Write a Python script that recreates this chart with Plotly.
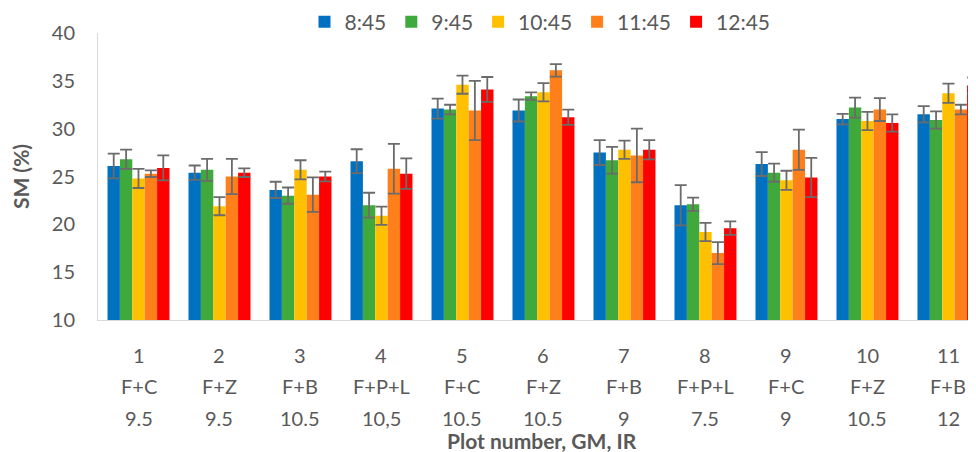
import plotly.graph_objects as go

series = ["8:45", "9:45", "10:45", "11:45", "12:45"]
colors = ["#0070C0", "#40A93B", "#FFC000", "#FF7F1A", "#FF0000"]

plot_num = ["1", "2", "3", "4", "5", "6", "7", "8", "9", "10", "11"]
gm = ["F+C", "F+Z", "F+B", "F+P+L", "F+C", "F+Z", "F+B", "F+P+L", "F+C", "F+Z", "F+B"]
ir = ["9.5", "9.5", "10.5", "10,5", "10.5", "10.5", "9", "7.5", "9", "10.5", "12"]

sm_0845 = [26.1, 25.4, 23.6, 26.6, 32.1, 31.9, 27.5, 22.0, 26.3, 31.0, 31.5]
err_0845 = [1.3, 0.75, 0.85, 1.25, 1.05, 1.15, 1.3, 2.1, 1.25, 0.55, 0.85]
sm_0945 = [26.8, 25.7, 23.0, 22.0, 32.0, 33.4, 26.7, 22.1, 25.4, 32.2, 30.9]
err_0945 = [1.0, 1.15, 0.85, 1.3, 0.5, 0.4, 1.4, 0.7, 0.95, 1.05, 0.9]
sm_1045 = [24.8, 21.9, 25.7, 20.9, 34.6, 33.8, 27.8, 19.2, 24.6, 30.8, 33.7]
err_1045 = [1.0, 0.95, 1.0, 0.95, 0.95, 0.95, 0.95, 0.95, 1.0, 0.95, 1.0]
sm_1145 = [25.3, 25.0, 23.1, 25.8, 31.9, 36.1, 27.2, 17.0, 27.8, 32.0, 32.0]
err_1145 = [0.35, 1.85, 1.8, 2.6, 3.1, 0.65, 2.8, 1.15, 2.1, 1.2, 0.5]
sm_1245 = [25.9, 25.4, 25.0, 25.3, 34.1, 31.2, 27.8, 19.6, 24.9, 30.6, 34.5]
err_1245 = [1.3, 0.45, 0.5, 1.6, 1.3, 0.8, 1.0, 0.7, 2.05, 0.9, 0.85]

values = [sm_0845, sm_0945, sm_1045, sm_1145, sm_1245]
errors = [err_0845, err_0945, err_1045, err_1145, err_1245]

FONT = "Lato, 'Liberation Sans', Arial, sans-serif"
GRAY = "#595959"

fig = go.Figure()
for name, col, v, e in zip(series, colors, values, errors):
    fig.add_trace(go.Bar(
        name=name, x=plot_num, y=v, marker=dict(color=col, line=dict(width=0)),
        error_y=dict(type="data", array=e, visible=True, color="#6B6B6B",
                     thickness=1.8, width=6),
    ))

# page body has an 8px margin: the figure sits at (8, 8) in the window
OFF = 8
W, H = 976 - OFF, 452 - OFF
ml, mr, mt, mb = 98 - OFF, 0, 33 - OFF, H - (320 - OFF)
plot_h = H - mt - mb
plot_w = W - ml - mr

def py(pix):
    return (H - mb - (pix - OFF)) / plot_h

def px(pix):
    return (pix - OFF - ml) / plot_w

annotations = []
rows = [(plot_num, 355), (gm, 386), (ir, 418)]
for labels, pix in rows:
    for i, lab in enumerate(labels):
        annotations.append(dict(x=i, y=py(pix), xref="x", yref="paper", text=lab,
                                showarrow=False, xanchor="center", yanchor="middle",
                                font=dict(family=FONT, size=20, color=GRAY)))
annotations.append(dict(x=px(542), y=py(440), xref="paper", yref="paper",
                        text="<b>Plot number, GM, IR</b>", showarrow=False,
                        xanchor="center", yanchor="middle",
                        font=dict(family=FONT, size=21, color=GRAY)))

fig.update_layout(
    width=W, height=H,
    margin=dict(l=ml, r=mr, t=mt, b=mb, pad=0, autoexpand=False),
    paper_bgcolor="white", plot_bgcolor="white",
    barmode="group", bargap=0.235, bargroupgap=0,
    showlegend=True,
    legend=dict(orientation="h", x=px(540), xanchor="center", y=py(22), yanchor="middle",
                font=dict(family=FONT, size=21, color=GRAY), bgcolor="rgba(0,0,0,0)",
                traceorder="normal"),
    xaxis=dict(type="category", range=[-0.5, 10.34], showticklabels=False, ticks="",
               showline=True, linecolor="#D9D9D9", linewidth=1, showgrid=False,
               zeroline=False),
    yaxis=dict(range=[10, 40], dtick=5, tick0=10, showline=True, linecolor="#D9D9D9",
               linewidth=1, showgrid=False, zeroline=False, ticks="",
               ticklabelstandoff=18,
               tickfont=dict(family=FONT, size=20, color=GRAY),
               title=dict(text="<b>SM (%)</b>", standoff=16,
                          font=dict(family=FONT, size=21, color=GRAY))),
    annotations=annotations,
)

fig.write_html("out.html")
